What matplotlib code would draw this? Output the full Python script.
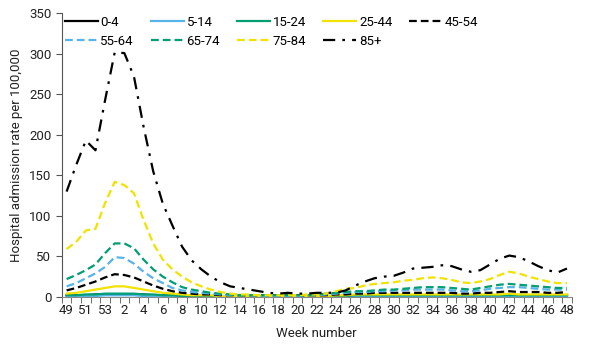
import numpy as np
import matplotlib
matplotlib.use("Agg")
import matplotlib.pyplot as plt

plt.rcParams['font.family'] = ['Roboto', 'DejaVu Sans']

# Semanas: 49-53 y luego 1-48
weeks = [49, 50, 51, 52, 53] + list(range(1, 49))

# Tasas de ingreso por grupo de edad (por 100.000)
r_0_4 = [2, 2, 2, 3, 3, 3, 3, 3, 3, 2, 2, 2, 1, 1, 1, 1, 1, 1, 1, 1, 1, 1, 1, 1, 1, 1, 1, 1,
         1, 1, 2, 2, 2, 2, 2, 2, 2, 2, 2, 2, 2, 2, 2, 2, 2, 2, 2, 2, 2, 2, 2, 2, 2]
r_5_14 = [1, 1, 1, 1, 2, 2, 2, 2, 1, 1, 1, 1, 1, 1, 1, 1, 0, 0, 0, 0, 0, 0, 0, 0, 0, 0, 0, 0,
          1, 1, 1, 1, 1, 1, 1, 1, 1, 1, 1, 1, 1, 1, 1, 1, 1, 1, 1, 1, 1, 1, 1, 1, 1]
r_15_24 = [2, 2, 3, 3, 4, 4, 4, 4, 3, 3, 2, 2, 1, 1, 1, 1, 1, 1, 1, 1, 1, 1, 1, 1, 1, 1, 1, 1,
           1, 1, 2, 2, 2, 2, 2, 2, 2, 2, 2, 2, 2, 2, 2, 2, 2, 2, 2, 2, 2, 2, 2, 2, 2]
r_25_44 = [4, 5, 7, 9, 11, 13, 13, 11, 9, 7, 5, 4, 3, 2, 2, 2, 1, 1, 1, 1, 1, 1, 1, 1, 1, 1, 1, 1,
           2, 2, 3, 3, 3, 3, 3, 3, 3, 3, 3, 3, 3, 3, 3, 3, 3, 3, 4, 3, 3, 3, 3, 3, 3]
r_45_54 = [8, 11, 15, 19, 24, 28, 27, 24, 19, 14, 10, 7, 5, 4, 3, 3, 2, 2, 2, 2, 2, 2, 2, 2, 2, 2, 2, 2,
           3, 3, 4, 4, 5, 5, 5, 5, 5, 5, 5, 5, 5, 4, 4, 5, 5, 6, 7, 6, 6, 6, 5, 5, 6]
r_55_64 = [13, 17, 23, 29, 37, 49, 48, 41, 31, 23, 17, 11, 8, 6, 5, 4, 3, 2, 2, 2, 1, 1, 1, 1, 1, 2, 2, 3,
           4, 5, 6, 6, 7, 7, 8, 8, 9, 9, 9, 9, 8, 7, 7, 8, 10, 11, 12, 12, 11, 10, 9, 9, 9]
r_65_74 = [22, 27, 33, 40, 54, 66, 66, 60, 46, 34, 25, 18, 12, 9, 7, 5, 4, 3, 2, 2, 2, 2, 2, 2, 2, 2, 3, 4,
           5, 6, 7, 7, 8, 9, 9, 10, 11, 12, 12, 12, 11, 10, 9, 11, 13, 15, 16, 15, 14, 13, 12, 11, 11]
r_75_84 = [59, 68, 82, 84, 116, 142, 138, 128, 95, 66, 46, 34, 25, 18, 13, 9, 6, 4, 3, 3, 2, 2, 2, 2, 2, 3, 3, 4,
           7, 10, 11, 14, 16, 17, 18, 20, 21, 23, 24, 23, 21, 18, 17, 19, 22, 27, 31, 29, 25, 22, 19, 17, 17]
r_85 = [130, 163, 193, 181, 243, 302, 301, 272, 210, 155, 115, 88, 62, 45, 34, 25, 18, 13, 11, 9, 7, 5, 4, 5, 4, 4, 5, 5,
        5, 8, 14, 19, 23, 25, 26, 30, 35, 36, 37, 39, 38, 34, 31, 33, 40, 47, 51, 49, 44, 38, 33, 30, 35]

series = [
    ("0-4", r_0_4, "#000000", "-"),
    ("5-14", r_5_14, "#56B4E9", "-"),
    ("15-24", r_15_24, "#009E73", "-"),
    ("25-44", r_25_44, "#F2E200", "-"),
    ("45-54", r_45_54, "#000000", (0, (3.5, 1.8))),
    ("55-64", r_55_64, "#56B4E9", (0, (3.5, 1.8))),
    ("65-74", r_65_74, "#009E73", (0, (3.5, 1.8))),
    ("75-84", r_75_84, "#F2E200", (0, (3.5, 1.8))),
    ("85+", r_85, "#000000", (0, (5.5, 3.2, 1.2, 3.2))),
]

x = np.arange(len(weeks))

fig = plt.figure(figsize=(6.0, 3.53), dpi=100)
ax = fig.add_axes([0.103, 0.159, 0.850, 0.803])

handles = []
for name, vals, col, ls in series:
    h, = ax.plot(x, vals, color=col, linestyle=ls, linewidth=1.6,
                 solid_joinstyle="round", dash_joinstyle="round", label=name)
    handles.append(h)

ax.set_xlim(-0.5, len(weeks) - 0.5)
ax.set_ylim(0, 350)
ax.set_yticks(np.arange(0, 351, 50))
ax.set_xticks(x[::2])
ax.set_xticklabels([str(w) for w in weeks[::2]])
ax.set_xticks(np.arange(-0.5, len(weeks), 1), minor=True)
ax.tick_params(axis="x", which="major", length=0, pad=5, labelsize=9.5, colors="#222222")
ax.tick_params(axis="x", which="minor", length=4, direction="out", color="#555555")
ax.tick_params(axis="y", length=4, direction="out", labelsize=9.5, color="#555555",
               colors="#222222")

for s in ["top", "right"]:
    ax.spines[s].set_visible(False)
ax.spines["left"].set_color("#555555")
ax.spines["bottom"].set_color("#888888")

ax.set_xlabel("Week number", fontsize=9.5, color="#222222", labelpad=7)
ax.set_ylabel("Hospital admission rate per 100,000", fontsize=9.5, color="#222222", labelpad=4)

# orden por filas en una leyenda de 5 columnas
order = [0, 5, 1, 6, 2, 7, 3, 8, 4]
ax.legend([handles[i] for i in order], [series[i][0] for i in order], ncol=5,
          loc="upper left", bbox_to_anchor=(-0.01, 1.02), frameon=False,
          fontsize=9.5, handlelength=2.5, handletextpad=0.2, columnspacing=1.3,
          labelspacing=0.45, borderaxespad=0.2)

fig.savefig("out.png", dpi=100)
